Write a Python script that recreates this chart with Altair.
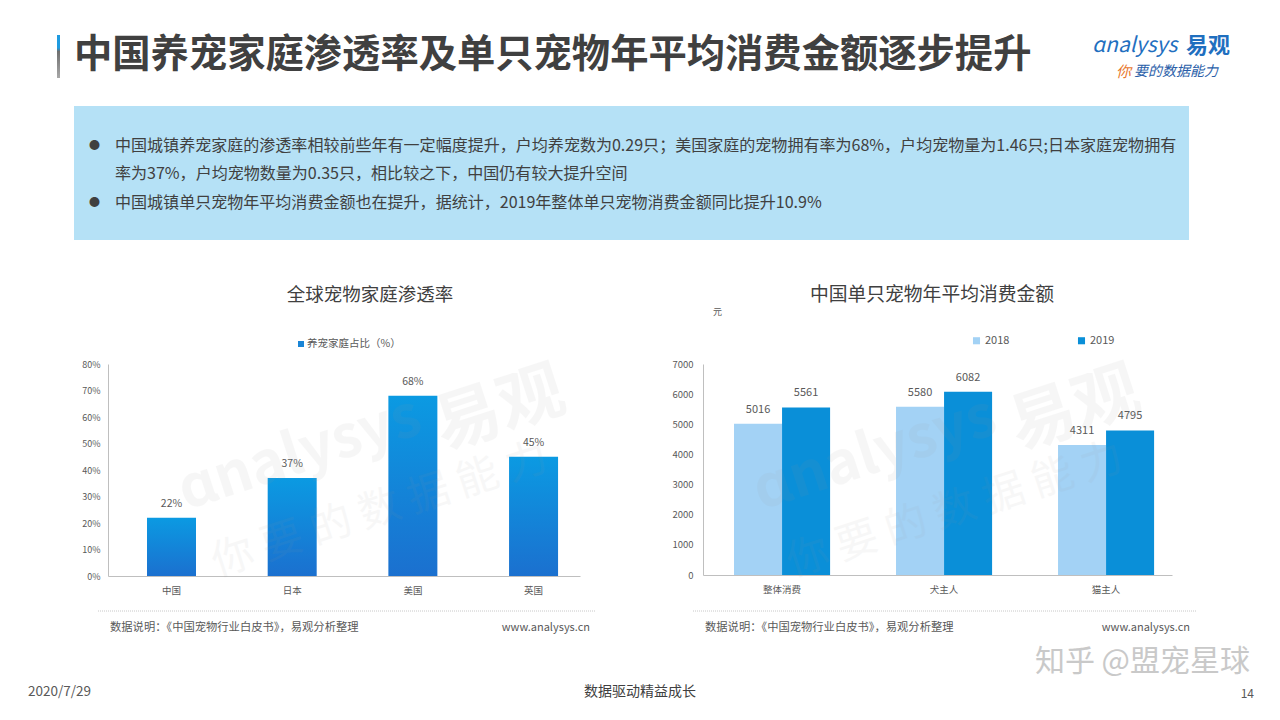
import altair as alt
import pandas as pd

# ---------------- data ----------------
countries = ["中国", "日本", "美国", "英国"]
pet_rates = [22, 37, 68, 45]

groups = ["整体消费", "犬主人", "猫主人"]
years = ["2018", "2019"]
spend_2018 = [5016, 5580, 4311]
spend_2019 = [5561, 6082, 4795]

pct_ticks = [0, 10, 20, 30, 40, 50, 60, 70, 80]
amt_ticks = [0, 1000, 2000, 3000, 4000, 5000, 6000, 7000]

title_text = "中国养宠家庭渗透率及单只宠物年平均消费金额逐步提升"
bullet_lines = [
    "中国城镇养宠家庭的渗透率相较前些年有一定幅度提升，户均养宠数为0.29只；美国家庭的宠物拥有率为68%，户均宠物量为1.46只;日本家庭宠物拥有",
    "率为37%，户均宠物数量为0.35只，相比较之下，中国仍有较大提升空间",
    "中国城镇单只宠物年平均消费金额也在提升，据统计，2019年整体单只宠物消费金额同比提升10.9%",
]
left_title = "全球宠物家庭渗透率"
right_title = "中国单只宠物年平均消费金额"
left_legend = "养宠家庭占比（%）"
source_text = "数据说明：《中国宠物行业白皮书》，易观分析整理"
site_text = "www.analysys.cn"

FONT = "Noto Sans CJK SC"
W, H = 1264, 704
GRAY = "#404040"
LGRAY = "#595959"

one = pd.DataFrame({"k": [0]})


def txt(t, x, y, size, color=GRAY, align="left", weight="normal", angle=0,
        opacity=1.0, italic=False, font=FONT):
    return alt.Chart(one).mark_text(
        text=t, align=align, baseline="middle", fontSize=size, color=color,
        fontWeight=weight, font=font, angle=angle, opacity=opacity,
        fontStyle="italic" if italic else "normal",
    ).encode(x=alt.value(x - 8), y=alt.value(y - 8))


def box(x1, y1, x2, y2, color, **kw):
    return alt.Chart(one).mark_rect(color=color, **kw).encode(
        x=alt.value(x1 - 8), x2=alt.value(x2 - 8),
        y=alt.value(y1 - 8), y2=alt.value(y2 - 8))


def hline(x1, x2, y, color="#c8c8c8", dash=(1, 1)):
    return alt.Chart(one).mark_rule(color=color, strokeDash=list(dash), strokeWidth=1).encode(
        x=alt.value(x1 - 8), x2=alt.value(x2 - 8), y=alt.value(y - 8))


deco = []
# accent bar + title
accent = alt.Gradient(gradient="linear", x1=0, x2=0, y1=0, y2=1, stops=[
    alt.GradientStop(color="#1e9be0", offset=0),
    alt.GradientStop(color="#1e9be0", offset=0.3),
    alt.GradientStop(color="#6f6f6f", offset=0.38),
    alt.GradientStop(color="#a8a8a8", offset=1),
])
deco.append(box(57, 35, 60, 78, accent))
deco.append(txt(title_text, 74, 56, 38.3, color=GRAY, weight="bold"))
# logo
deco.append(txt("ɑnalysys", 1092, 46, 21, color="#1f6fbf", italic=True))
deco.append(txt("易观", 1186, 46, 22, color="#1f6fbf", weight="bold"))
deco.append(txt("你", 1116, 72, 15, color="#e8772e", italic=True))
deco.append(txt("要的数据能力", 1134, 72, 14, color="#2a5ea8", italic=True))
# info box
deco.append(box(74, 106, 1189, 240, "#b5e1f6"))
deco.append(txt("●", 89, 146, 11, color="#404040"))
deco.append(txt("●", 89, 203, 11, color="#404040"))
deco.append(txt(bullet_lines[0], 115, 146, 16.05))
deco.append(txt(bullet_lines[1], 115, 174, 16.05))
deco.append(txt(bullet_lines[2], 115, 203, 16.05))
# chart titles / legends
deco.append(txt(left_title, 370, 295, 18.5, align="center"))
deco.append(txt(right_title, 932, 295, 18.8, align="center"))
deco.append(txt("元", 713, 312, 9, color=LGRAY))
deco.append(box(298, 341, 304, 347, "#1a85d6"))
deco.append(txt(left_legend, 307, 344, 10.5, color=LGRAY))
# footer
deco.append(hline(98, 596, 611))
deco.append(hline(693, 1196, 611))
deco.append(txt(source_text, 110, 628, 11.3, color=LGRAY))
deco.append(txt(site_text, 590, 628, 11, color=LGRAY, align="right"))
deco.append(txt(source_text, 705, 628, 11.3, color=LGRAY))
deco.append(txt(site_text, 1190, 628, 11, color=LGRAY, align="right"))
deco.append(txt("知乎 @盟宠星球", 1250, 662, 30, color="#c9c9c9", align="right"))
deco.append(txt("2020/7/29", 28, 692, 13.5, color=LGRAY))
deco.append(txt("数据驱动精益成长", 640, 692, 14, color=GRAY, align="center"))
deco.append(txt("14", 1254, 694, 12, color=LGRAY, align="right"))

# ---------------- left chart ----------------
left_df = pd.DataFrame({"国家": countries, "占比": pet_rates})
left_df["标签"] = [f"{v}%" for v in pet_rates]

axis_common = dict(labelFont=FONT, labelColor=LGRAY, ticks=False, grid=False,
                   title=None, domainColor="#bfbfbf")

lbase = alt.Chart(left_df).encode(
    x=alt.X("国家:N", sort=countries,
            scale=alt.Scale(range=[100, 572], paddingInner=0.594, paddingOuter=0.2525,
                            align=0.64),
            axis=alt.Axis(orient="bottom", offset=-(H - 568), labelAngle=0,
                          labelFontSize=9.5, labelPadding=9, **axis_common)),
    y=alt.Y("占比:Q",
            scale=alt.Scale(domain=[0, 80], range=[568, 356], nice=False),
            axis=alt.Axis(orient="left", offset=-100, values=pct_ticks,
                          labelExpr="datum.value + '%'", labelFontSize=9,
                          labelPadding=8, **axis_common)),
)
bar_grad = alt.Gradient(gradient="linear", x1=0, x2=0, y1=0, y2=1, stops=[
    alt.GradientStop(color="#0b9ae2", offset=0),
    alt.GradientStop(color="#1b70cf", offset=1),
])
left_layer = alt.layer(
    lbase.mark_bar(color=bar_grad),
    lbase.mark_text(dy=-14, fontSize=10.5, color=LGRAY, font=FONT).encode(text="标签:N"),
)

# ---------------- right chart ----------------
right_df = pd.DataFrame({
    "类别": groups * 2,
    "年份": [years[0]] * 3 + [years[1]] * 3,
    "金额": spend_2018 + spend_2019,
})
rbase = alt.Chart(right_df).encode(
    x=alt.X("类别:N", sort=groups,
            scale=alt.Scale(range=[695, 1164], paddingInner=0.407, paddingOuter=0.151,
                            align=0.634),
            axis=alt.Axis(orient="bottom", offset=-(H - 567), labelAngle=0,
                          labelFontSize=9.5, labelPadding=9, **axis_common)),
    xOffset=alt.XOffset("年份:N", sort=years, scale=alt.Scale(paddingInner=0, paddingOuter=0)),
    y=alt.Y("金额:Q",
            scale=alt.Scale(domain=[0, 7000], range=[567, 356], nice=False),
            axis=alt.Axis(orient="left", offset=-695, values=amt_ticks, format="d",
                          labelFontSize=9.5, labelPadding=10, **axis_common)),
)
right_layer = alt.layer(
    rbase.mark_bar().encode(
        color=alt.Color("年份:N", sort=years,
                        scale=alt.Scale(domain=years, range=["#a3d2f5", "#0a8fd8"]),
                        legend=alt.Legend(orient="none", legendX=963, legendY=327,
                                          direction="horizontal", title=None,
                                          symbolType="square", symbolSize=50,
                                          symbolStrokeWidth=0, labelFontSize=11,
                                          labelFont=FONT, labelColor=LGRAY,
                                          columnPadding=66, labelOffset=3))),
    rbase.mark_text(dy=-14, fontSize=11, color=LGRAY, font=FONT).encode(
        text=alt.Text("金额:Q", format="d")),
)

# ---------------- watermarks ----------------
wm = []
for (cx, cy) in [(340, 470), (915, 470)]:
    wm.append(txt("ɑnalysys", cx - 40, cy - 15, 58, color="#9a9a9a", align="center",
                  angle=342, opacity=0.08, weight="bold"))
    wm.append(txt("易观", cx + 160, cy - 60, 66, color="#9a9a9a", align="center",
                  angle=342, opacity=0.08, weight="bold"))
    wm.append(txt("你 要 的 数 据 能 力", cx + 40, cy + 40, 42, color="#9a9a9a",
                  align="center", angle=342, opacity=0.07))

chart = alt.layer(*deco, left_layer, right_layer, *wm).resolve_scale(
    x="independent", y="independent"
).properties(
    width=W, height=H, padding=0, autosize=alt.AutoSizeParams(type="none"),
    background="white",
).configure_view(stroke=None)

chart.save("out.html", embed_options={"renderer": "svg", "actions": False})
